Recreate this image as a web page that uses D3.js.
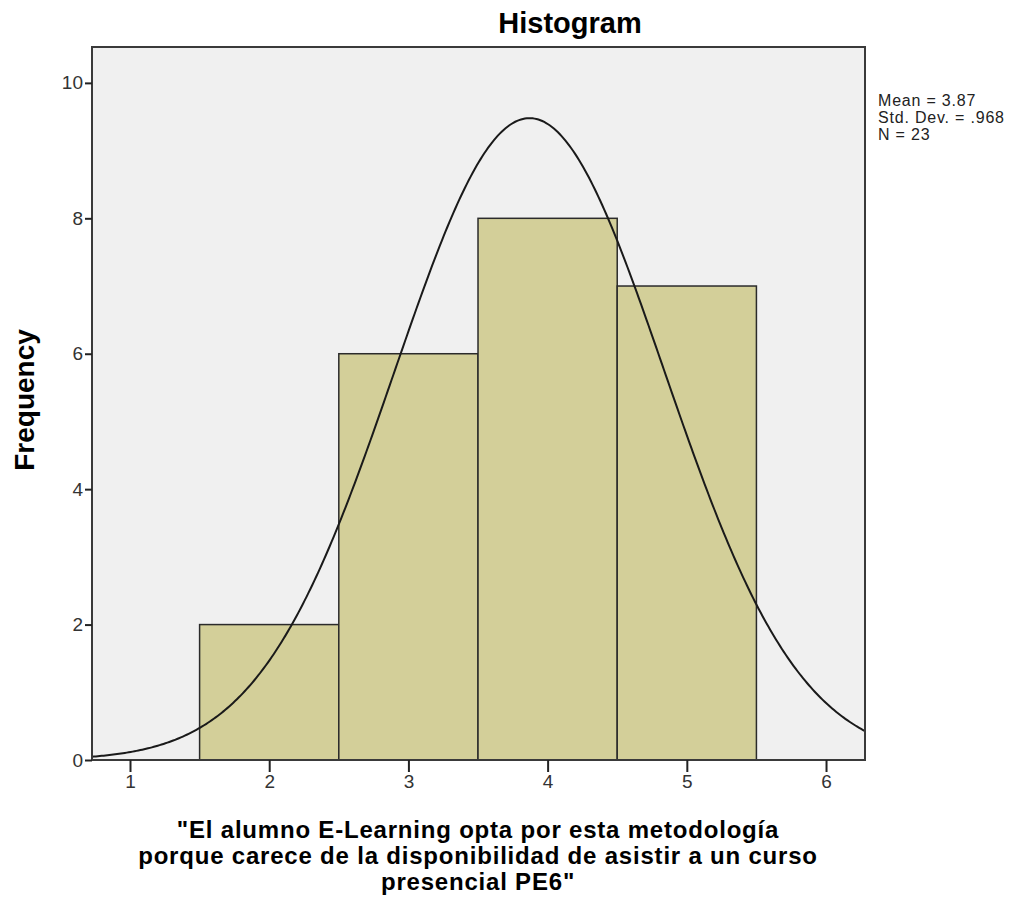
<!DOCTYPE html>
<html>
<head>
<meta charset="utf-8">
<script src="https://cdn.jsdelivr.net/npm/d3@7"></script>
<style>
  body { margin: 0; background: #fff; }
  svg { font-family: "Liberation Sans", Arial, sans-serif; }
</style>
</head>
<body>
<svg width="1026" height="901"></svg>
<script>
// bins (lower edge, upper edge) and counts
let binStart = [1.5, 2.5, 3.5, 4.5];
let binEnd = [2.5, 3.5, 4.5, 5.5];
let counts = [2, 6, 8, 7];
let xTicks = [1, 2, 3, 4, 5, 6];
let yTicks = [0, 2, 4, 6, 8, 10];
let statLines = ["Mean = 3.87", "Std. Dev. = .968", "N = 23"];
let mean = 3.87, sd = 0.968, n = 23, binWidth = 1;
let xLabelLines = [
    "\"El alumno E-Learning opta por esta metodología",
    "porque carece de la disponibilidad de asistir a un curso",
    "presencial PE6\""
];

let svg = d3.select("svg");
let plot = { left: 92, top: 47, right: 865, bottom: 760 };

let x = d3.scaleLinear().domain([0.727, 6.28]).range([plot.left, plot.right]);
let y = d3.scaleLinear().domain([0, 10.53]).range([plot.bottom, plot.top]);

// plot background
svg.append("rect")
    .attr("x", plot.left).attr("y", plot.top)
    .attr("width", plot.right - plot.left).attr("height", plot.bottom - plot.top)
    .attr("fill", "#f0f0f0");

// bars
svg.append("g").selectAll("rect")
    .data(counts)
    .enter().append("rect")
    .attr("x", (d, i) => x(binStart[i]))
    .attr("y", d => y(d))
    .attr("width", (d, i) => x(binEnd[i]) - x(binStart[i]))
    .attr("height", d => y(0) - y(d))
    .attr("fill", "#d3cf99")
    .attr("stroke", "#2b2b2b")
    .attr("stroke-width", 1.5);

// normal curve from the stats
let curveX = d3.range(0, 401).map(i => x.domain()[0] + (x.domain()[1] - x.domain()[0]) * i / 400);
let line = d3.line()
    .x(d => x(d))
    .y(d => y(n * binWidth * Math.exp(-0.5 * Math.pow((d - mean) / sd, 2)) / (sd * Math.sqrt(2 * Math.PI))));
svg.append("path")
    .datum(curveX)
    .attr("d", line)
    .attr("fill", "none")
    .attr("stroke", "#1a1a1a")
    .attr("stroke-width", 2);

// frame
svg.append("rect")
    .attr("x", plot.left).attr("y", plot.top)
    .attr("width", plot.right - plot.left).attr("height", plot.bottom - plot.top)
    .attr("fill", "none")
    .attr("stroke", "#3a3a3a")
    .attr("stroke-width", 2);

// axes
let yAxis = svg.append("g")
    .attr("transform", `translate(${plot.left},0)`)
    .call(d3.axisLeft(y).tickValues(yTicks).tickFormat(d3.format("d")).tickSize(7).tickPadding(2));
let xAxis = svg.append("g")
    .attr("transform", `translate(0,${plot.bottom})`)
    .call(d3.axisBottom(x).tickValues(xTicks).tickFormat(d3.format("d")).tickSize(12).tickPadding(3));
[xAxis, yAxis].forEach(a => {
    a.select(".domain").remove();
    a.selectAll("line").attr("stroke", "#222").attr("stroke-width", 2);
    a.selectAll("text").attr("fill", "#333").style("font-size", "19px");
});

// title
svg.append("text")
    .attr("x", 570).attr("y", 33)
    .attr("text-anchor", "middle")
    .style("font-size", "29px").style("font-weight", "bold")
    .text("Histogram");

// y label
svg.append("text")
    .attr("transform", "translate(34,400) rotate(-90)")
    .attr("text-anchor", "middle")
    .style("font-size", "28px").style("font-weight", "bold")
    .text("Frequency");

// x label
svg.append("g").selectAll("text")
    .data(xLabelLines)
    .enter().append("text")
    .attr("x", 478)
    .attr("y", (d, i) => 838 + i * 26)
    .attr("text-anchor", "middle")
    .style("font-size", "24px").style("font-weight", "bold")
    .style("letter-spacing", "0.8px")
    .text(d => d);

// stats legend
svg.append("g").selectAll("text")
    .data(statLines)
    .enter().append("text")
    .attr("x", 878)
    .attr("y", (d, i) => 106 + i * 17)
    .attr("fill", "#222")
    .style("font-size", "16px")
    .style("letter-spacing", "0.8px")
    .text(d => d);
</script>
</body>
</html>
